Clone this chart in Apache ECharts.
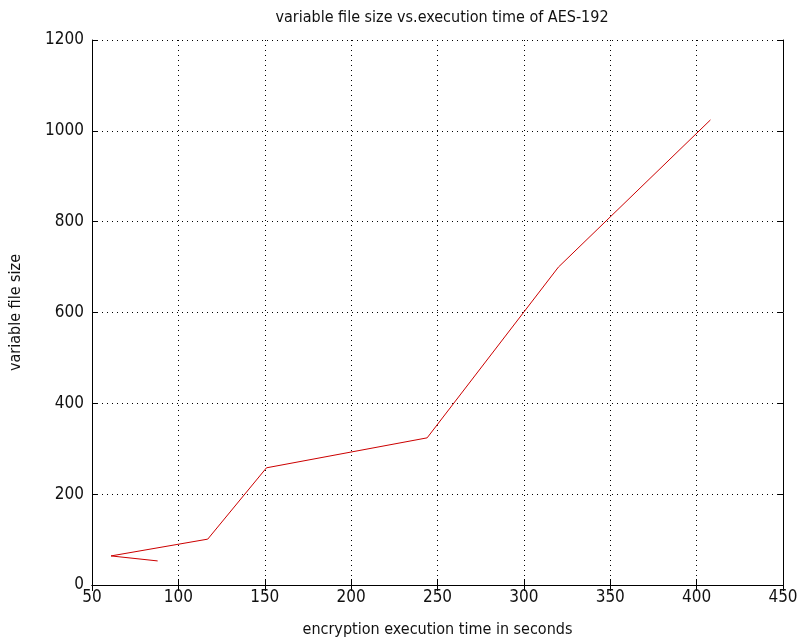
<!DOCTYPE html>
<html>
<head>
<meta charset="utf-8">
<script src="https://cdn.jsdelivr.net/npm/echarts@6/dist/echarts.min.js"></script>
<style>html,body{margin:0;padding:0;background:#fff;}#c{width:804px;height:643px;}</style>
</head>
<body>
<div id="c"></div>
<script>
// data
const execTime = [88, 61, 117, 151, 244, 320, 408];
const fileSize = [53, 64, 101, 258, 324, 700, 1024];
const xTicks = [50, 100, 150, 200, 250, 300, 350, 400, 450];
const yTicks = [0, 200, 400, 600, 800, 1000, 1200];

const titleText = 'variable file size vs.execution time of AES-192';
const xName = 'encryption execution time in seconds';
const yName = 'variable file size';

const FONT = "'Liberation Sans Narrow', 'DejaVu Sans Condensed', 'Liberation Sans', sans-serif";
const chart = echarts.init(document.getElementById('c'), null, {renderer: 'canvas'});

const pts = execTime.map((x, i) => [x, fileSize[i]]);
const gridLine = {show: true, lineStyle: {color: '#000', type: [1, 4], width: 1}};
const axisLine = {show: true, lineStyle: {color: '#000', width: 1}};
const tick = {show: true, inside: true, length: 6, lineStyle: {color: '#000'}};

chart.setOption({
  animation: false,
  backgroundColor: '#fff',
  title: {
    text: titleText, left: 437, top: 5, textAlign: 'center',
    textStyle: {fontFamily: FONT, fontSize: 16, fontWeight: 'normal', color: '#111'}
  },
  grid: {left: 92, right: 21, top: 40, bottom: 57, containLabel: false},
  xAxis: [{
    type: 'value', min: xTicks[0], max: xTicks[xTicks.length - 1], interval: 50,
    position: 'bottom',
    name: xName, nameLocation: 'middle', nameGap: 37,
    nameTextStyle: {fontFamily: FONT, fontSize: 16, color: '#111'},
    axisLine: axisLine, axisTick: tick, splitLine: gridLine,
    axisLabel: {fontFamily: FONT, fontSize: 17, color: '#111', margin: 4, formatter: v => String(v)}
  }, {
    type: 'value', min: xTicks[0], max: xTicks[xTicks.length - 1], interval: 50,
    position: 'top', axisLine: axisLine, axisTick: tick, axisLabel: {show: false}, splitLine: {show: false}
  }],
  yAxis: [{
    type: 'value', min: yTicks[0], max: yTicks[yTicks.length - 1], interval: 200,
    position: 'left',
    name: yName, nameLocation: 'middle', nameGap: 68, nameRotate: 90,
    nameTextStyle: {fontFamily: FONT, fontSize: 16, color: '#111'},
    axisLine: axisLine, axisTick: tick, splitLine: gridLine,
    axisLabel: {fontFamily: FONT, fontSize: 17, color: '#111', margin: 8, formatter: v => String(v)}
  }, {
    type: 'value', min: yTicks[0], max: yTicks[yTicks.length - 1], interval: 200,
    position: 'right', axisLine: axisLine, axisTick: tick, axisLabel: {show: false}, splitLine: {show: false}
  }],
  series: [{
    type: 'line', data: pts, xAxisIndex: 0, yAxisIndex: 0,
    showSymbol: false, symbol: 'none',
    lineStyle: {color: '#cc0000', width: 1},
    z: 5
  }]
});
</script>
</body>
</html>
